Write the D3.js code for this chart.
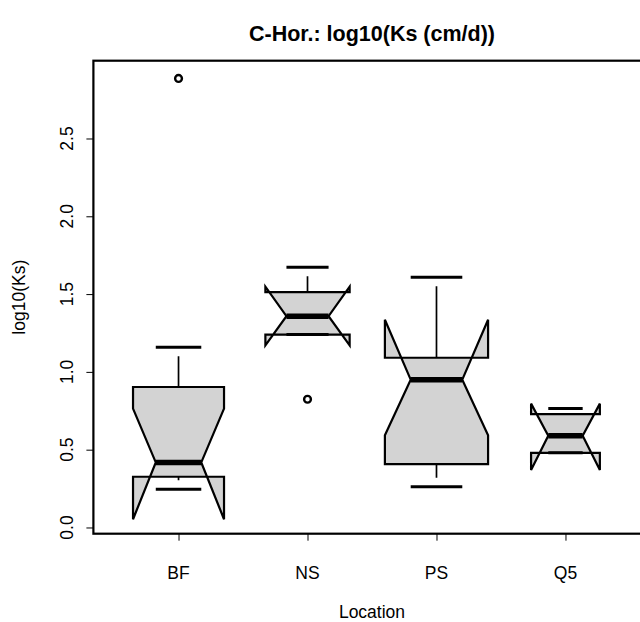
<!DOCTYPE html>
<html>
<head>
<meta charset="utf-8">
<script src="https://cdn.jsdelivr.net/npm/d3@7"></script>
<style>
  html, body { margin: 0; padding: 0; background: #fff; }
  svg { display: block; font-family: "Liberation Sans", Arial, Helvetica, sans-serif; }
</style>
</head>
<body>
<svg id="chart" width="640" height="622"></svg>
<script>
// ---- data ----
const categories   = ["BF", "NS", "PS", "Q5"];
const sampleSizes  = [7, 6, 9, 4];
const lowerWhisker = [0.245, 1.240, 0.262, 0.480];
const lowerHinge   = [0.326, 1.240, 0.407, 0.480];
const medians      = [0.418, 1.358, 0.950, 0.589];
const upperHinge   = [0.903, 1.512, 1.091, 0.728];
const upperWhisker = [1.159, 1.672, 1.608, 0.764];
const notchLow     = [0.053, 1.170, 0.593, 0.369];
const notchHigh    = [0.764, 1.548, 1.335, 0.796];
const outliers     = [[2.886], [0.824], [], []];
const yTicks       = [0.0, 0.5, 1.0, 1.5, 2.0, 2.5];
const titleText    = "C-Hor.: log10(Ks (cm/d))";
const xLabel       = "Location";
const yLabel       = "log10(Ks)";

// ---- layout ----
const plot = { left: 93.4, right: 650.6, top: 60.7, bottom: 533.7 };
const svg = d3.select("#chart");

const x = d3.scaleLinear().domain([0.34, 4.66]).range([plot.left, plot.right]);
const y = d3.scaleLinear().domain([-0.04, 3.0]).range([plot.bottom, plot.top]);

const maxSqrt = d3.max(sampleSizes, n => Math.sqrt(n));
const boxes = categories.map((c, i) => ({
  cat: c, pos: i + 1,
  half: 0.4 * Math.sqrt(sampleSizes[i]) / maxSqrt,
  lw: lowerWhisker[i], q1: lowerHinge[i], med: medians[i], q3: upperHinge[i],
  uw: upperWhisker[i], nlo: notchLow[i], nhi: notchHigh[i], out: outliers[i]
}));

const g = svg.append("g");

boxes.forEach(b => {
  const xl = x(b.pos - b.half), xr = x(b.pos + b.half), xc = x(b.pos);
  const xml = x(b.pos - b.half / 2), xmr = x(b.pos + b.half / 2);
  const capL = x(b.pos - b.half / 2), capR = x(b.pos + b.half / 2);

  // whiskers (line from cap end toward hinge with a short gap at the cap)
  [[b.uw, b.q3], [b.lw, b.q1]].forEach(([w, h]) => {
    if (w === h) return;
    g.append("line")
      .attr("x1", xc).attr("x2", xc)
      .attr("y1", y(w)).attr("y2", y(h))
      .attr("stroke", "#000").attr("stroke-width", 1.7)
      .attr("stroke-dasharray", "0,9,2000,0");
  });

  // notched box polygon (R bxp style)
  const pts = [
    [xl, y(b.q1)], [xl, y(b.nlo)], [xml, y(b.med)], [xl, y(b.nhi)], [xl, y(b.q3)],
    [xr, y(b.q3)], [xr, y(b.nhi)], [xmr, y(b.med)], [xr, y(b.nlo)], [xr, y(b.q1)]
  ];
  g.append("polygon")
    .attr("points", pts.map(p => p.join(",")).join(" "))
    .attr("fill", "#d3d3d3")
    .attr("stroke", "#000").attr("stroke-width", 2.2)
    .attr("stroke-linejoin", "miter");

  // median
  g.append("line")
    .attr("x1", xml).attr("x2", xmr)
    .attr("y1", y(b.med)).attr("y2", y(b.med))
    .attr("stroke", "#000").attr("stroke-width", 5.5);

  // staples
  [b.uw, b.lw].forEach(w => {
    g.append("line")
      .attr("x1", capL).attr("x2", capR)
      .attr("y1", y(w)).attr("y2", y(w))
      .attr("stroke", "#000").attr("stroke-width", 3);
  });

  // outliers
  b.out.forEach(o => {
    g.append("circle")
      .attr("cx", xc).attr("cy", y(o)).attr("r", 3.4)
      .attr("fill", "none").attr("stroke", "#000").attr("stroke-width", 2.4);
  });
});

// frame
svg.append("rect")
  .attr("x", plot.left).attr("y", plot.top)
  .attr("width", plot.right - plot.left).attr("height", plot.bottom - plot.top)
  .attr("fill", "none").attr("stroke", "#000").attr("stroke-width", 2.2);

// y axis
const yAxis = d3.axisLeft(y).tickValues(yTicks).tickFormat(d3.format(".1f")).tickSize(7).tickPadding(0);
const ya = svg.append("g").attr("transform", `translate(${plot.left},0)`).call(yAxis);
ya.select(".domain").remove();
ya.selectAll(".tick line").attr("stroke", "#000").attr("stroke-width", 1);
ya.selectAll(".tick text").remove();
yTicks.forEach(t => {
  svg.append("text")
    .attr("transform", `translate(${plot.left - 20},${y(t)}) rotate(-90)`)
    .attr("text-anchor", "middle")
    .attr("font-size", 17.5)
    .text(d3.format(".1f")(t));
});

// x axis
const xAxis = d3.axisBottom(x).tickValues(boxes.map(b => b.pos)).tickSize(7).tickFormat(() => "");
const xa = svg.append("g").attr("transform", `translate(0,${plot.bottom})`).call(xAxis);
xa.select(".domain").remove();
xa.selectAll(".tick line").attr("stroke", "#000").attr("stroke-width", 1);
boxes.forEach(b => {
  svg.append("text")
    .attr("x", x(b.pos)).attr("y", 579)
    .attr("text-anchor", "middle").attr("font-size", 17.5)
    .text(b.cat);
});

// labels
svg.append("text")
  .attr("x", (plot.left + plot.right) / 2).attr("y", 618)
  .attr("text-anchor", "middle").attr("font-size", 17.5)
  .text(xLabel);
svg.append("text")
  .attr("transform", `translate(25,${(plot.top + plot.bottom) / 2}) rotate(-90)`)
  .attr("text-anchor", "middle").attr("font-size", 17.5)
  .text(yLabel);
svg.append("text")
  .attr("x", (plot.left + plot.right) / 2).attr("y", 41)
  .attr("text-anchor", "middle").attr("font-size", 21.5).attr("font-weight", "bold")
  .text(titleText);
</script>
</body>
</html>
